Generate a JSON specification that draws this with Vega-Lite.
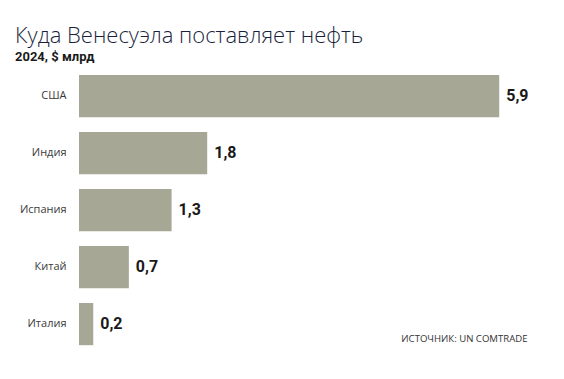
{
  "$schema": "https://vega.github.io/schema/vega-lite/v6.json",
  "width": 448,
  "height": 285,
  "autosize": {"type": "none"},
  "padding": {"left": 79, "top": 67.6, "right": 37, "bottom": 26},
  "background": "#ffffff",
  "title": {
    "text": "Куда Венесуэла поставляет нефть",
    "subtitle": "2024, $ млрд",
    "anchor": "start",
    "frame": "group",
    "dx": -64,
    "offset": 3,
    "font": "Open Sans",
    "fontSize": 22,
    "fontWeight": 300,
    "color": "#1b1f3b",
    "subtitleFont": "Roboto",
    "subtitleFontSize": 13,
    "subtitleFontWeight": "bold",
    "subtitleColor": "#1a1a1a",
    "subtitlePadding": 3
  },
  "data": {
    "values": [
      {"country": "США", "value": 5.9},
      {"country": "Индия", "value": 1.8},
      {"country": "Испания", "value": 1.3},
      {"country": "Китай", "value": 0.7},
      {"country": "Италия", "value": 0.2}
    ]
  },
  "encoding": {
    "y": {
      "field": "country",
      "type": "nominal",
      "sort": null,
      "scale": {"paddingInner": 0.26, "paddingOuter": 0.13},
      "axis": {
        "title": null,
        "ticks": false,
        "domain": false,
        "labelPadding": 13,
        "labelFont": "Open Sans",
        "labelFontSize": 11,
        "labelColor": "#3a3a3a"
      }
    },
    "x": {
      "field": "value",
      "type": "quantitative",
      "scale": {"domain": [0, 6.29], "nice": false},
      "axis": {
        "labels": false,
        "ticks": false,
        "domain": false,
        "grid": false,
        "title": "ИСТОЧНИК: UN COMTRADE",
        "titleAnchor": "end",
        "titleAlign": "right",
        "titleFont": "Open Sans",
        "titleFontSize": 9.6,
        "titleFontWeight": "normal",
        "titleColor": "#333333",
        "titleY": -11,
        "titleBaseline": "alphabetic"
      }
    }
  },
  "layer": [
    {"mark": {"type": "bar", "color": "#a6a895"}},
    {
      "mark": {
        "type": "text",
        "align": "left",
        "baseline": "middle",
        "dx": 7,
        "font": "Roboto",
        "fontSize": 16,
        "fontWeight": "bold",
        "color": "#1a1a1a"
      },
      "encoding": {"text": {"field": "value", "type": "quantitative", "format": ".1f"}}
    }
  ],
  "config": {
    "view": {"stroke": null},
    "locale": {"number": {"decimal": ",", "thousands": " ", "grouping": [3], "currency": ["", "$"]}}
  }
}
